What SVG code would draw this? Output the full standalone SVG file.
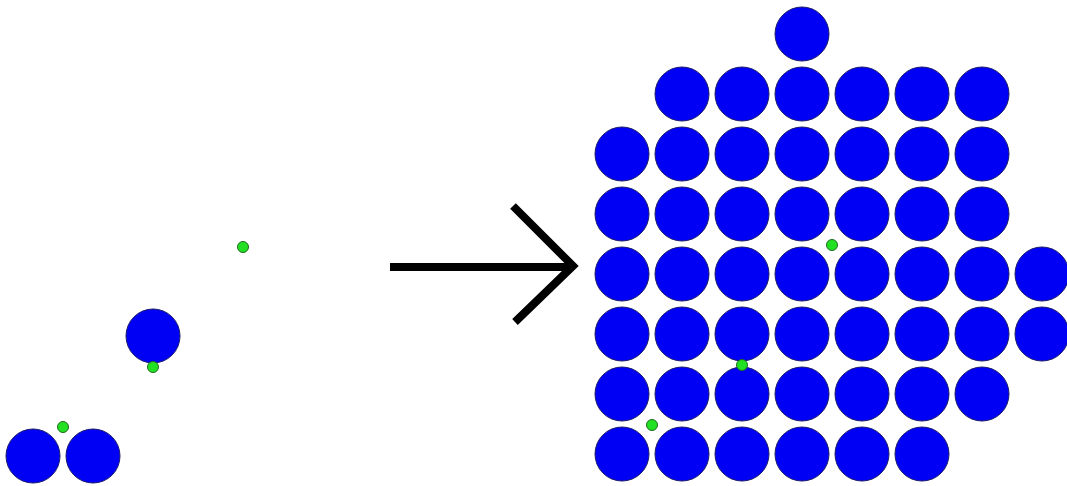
<svg xmlns="http://www.w3.org/2000/svg" width="1067" height="486" viewBox="0 0 1067 486">
<style>
.b{fill:#0000f5;stroke:#1a1a6e;stroke-width:1}
.g{fill:#22e022;stroke:#1d6b1d;stroke-width:1}
.ar{fill:none;stroke:#000;stroke-width:8}
</style>
<rect width="1067" height="486" fill="#fff"/>
<g id="before">
<circle class="b" cx="153" cy="336" r="27"/>
<circle class="b" cx="33" cy="456" r="27"/>
<circle class="b" cx="93" cy="456" r="27"/>
<circle class="g" cx="243" cy="247" r="5.5"/>
<circle class="g" cx="153" cy="367" r="5.5"/>
<circle class="g" cx="63" cy="427" r="5.5"/>
</g>
<g id="connectors">
<line class="ar" x1="390" y1="267" x2="572" y2="267"/>
<polyline class="ar" points="513,206 573,266 515,322"/>
</g>
<g id="after">
<circle class="b" cx="802" cy="34" r="27"/>
<circle class="b" cx="682" cy="94" r="27"/><circle class="b" cx="742" cy="94" r="27"/><circle class="b" cx="802" cy="94" r="27"/><circle class="b" cx="862" cy="94" r="27"/><circle class="b" cx="922" cy="94" r="27"/><circle class="b" cx="982" cy="94" r="27"/>
<circle class="b" cx="622" cy="154" r="27"/><circle class="b" cx="682" cy="154" r="27"/><circle class="b" cx="742" cy="154" r="27"/><circle class="b" cx="802" cy="154" r="27"/><circle class="b" cx="862" cy="154" r="27"/><circle class="b" cx="922" cy="154" r="27"/><circle class="b" cx="982" cy="154" r="27"/>
<circle class="b" cx="622" cy="214" r="27"/><circle class="b" cx="682" cy="214" r="27"/><circle class="b" cx="742" cy="214" r="27"/><circle class="b" cx="802" cy="214" r="27"/><circle class="b" cx="862" cy="214" r="27"/><circle class="b" cx="922" cy="214" r="27"/><circle class="b" cx="982" cy="214" r="27"/>
<circle class="b" cx="622" cy="274" r="27"/><circle class="b" cx="682" cy="274" r="27"/><circle class="b" cx="742" cy="274" r="27"/><circle class="b" cx="802" cy="274" r="27"/><circle class="b" cx="862" cy="274" r="27"/><circle class="b" cx="922" cy="274" r="27"/><circle class="b" cx="982" cy="274" r="27"/><circle class="b" cx="1042" cy="274" r="27"/>
<circle class="b" cx="622" cy="334" r="27"/><circle class="b" cx="682" cy="334" r="27"/><circle class="b" cx="742" cy="334" r="27"/><circle class="b" cx="802" cy="334" r="27"/><circle class="b" cx="862" cy="334" r="27"/><circle class="b" cx="922" cy="334" r="27"/><circle class="b" cx="982" cy="334" r="27"/><circle class="b" cx="1042" cy="334" r="27"/>
<circle class="b" cx="622" cy="394" r="27"/><circle class="b" cx="682" cy="394" r="27"/><circle class="b" cx="742" cy="394" r="27"/><circle class="b" cx="802" cy="394" r="27"/><circle class="b" cx="862" cy="394" r="27"/><circle class="b" cx="922" cy="394" r="27"/><circle class="b" cx="982" cy="394" r="27"/>
<circle class="b" cx="622" cy="454" r="27"/><circle class="b" cx="682" cy="454" r="27"/><circle class="b" cx="742" cy="454" r="27"/><circle class="b" cx="802" cy="454" r="27"/><circle class="b" cx="862" cy="454" r="27"/><circle class="b" cx="922" cy="454" r="27"/>
<circle class="g" cx="832" cy="245" r="5.5"/>
<circle class="g" cx="742" cy="365" r="5.5"/>
<circle class="g" cx="652" cy="425" r="5.5"/>
</g>
</svg>
